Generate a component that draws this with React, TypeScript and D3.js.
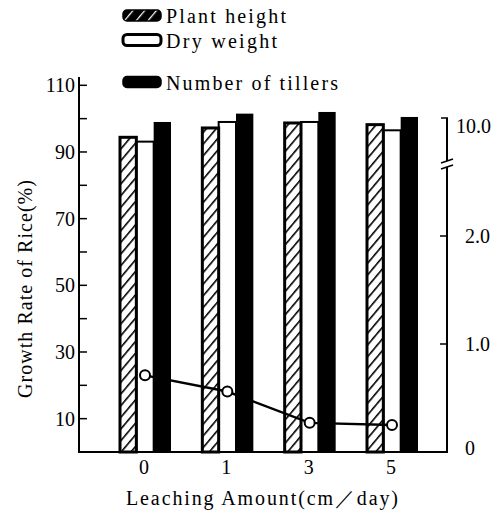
import React from "react";
import * as d3 from "d3";

const categories = ["0", "1", "3", "5"];
const seriesNames = ["Plant height", "Dry weight", "Number of tillers"];
const plantHeight = [94.7, 97.5, 99.0, 98.5];
const dryWeight = [93.1, 99.0, 99.0, 96.5];
const tillers = [99.0, 101.5, 102.0, 100.5];
const lineValues = [0.71, 0.56, 0.27, 0.25];
const leftTicks = [10, 20, 30, 40, 50, 60, 70, 80, 90, 100, 110];
const leftLabels = [10, 30, 50, 70, 90, 110];
const rightTicks = [1.0, 2.0];
const rightLabels = ["0", "1.0", "2.0"];
const breakLabel = "10.0";
const xTitle = "Leaching Amount(cm／day)";
const yTitle = "Growth Rate of Rice(%)";

const FONT = "Liberation Serif, DejaVu Serif, Times New Roman, serif";
const ts: React.CSSProperties = { fontFamily: FONT };

export default function App() {
  const W = 504, H = 513;
  const left = 79, right = 447, bottom = 452;
  const y = d3.scaleLinear().domain([0, 110]).range([bottom, 85.3]);
  const yR = d3.scaleLinear().domain([0, 2]).range([bottom, 236]);
  const x = d3.scalePoint<string>().domain(categories).range([145, 392]);
  const sx = d3.scaleBand<string>().domain(seriesNames).range([-26, 26]);
  const bw = sx.bandwidth();

  const lineGen = d3
    .line<number>()
    .x((_, i) => x(categories[i]) as number)
    .y((d) => yR(d))
    .curve(d3.curveLinear);

  const legendRows = [
    { name: seriesNames[0], iconY: 15.5, textY: 23, len: 120 },
    { name: seriesNames[1], iconY: 40, textY: 48, len: 111 },
    { name: seriesNames[2], iconY: 82, textY: 90, len: 172 },
  ];

  return (
    <svg
      width={W}
      height={H}
      style={{ position: "absolute", left: 0, top: 0, background: "#fff" }}
    >
      <defs>
        <pattern
          id="hatch"
          patternUnits="userSpaceOnUse"
          width={7.5}
          height={7.5}
          patternTransform="rotate(40)"
        >
          <rect width={7.5} height={7.5} fill="#fff" />
          <line x1={0} y1={0} x2={0} y2={7.5} stroke="#000" strokeWidth={3.2} />
        </pattern>
        <pattern
          id="hatchInv"
          patternUnits="userSpaceOnUse"
          width={9}
          height={9}
          patternTransform="rotate(40)"
        >
          <rect width={9} height={9} fill="#000" />
          <line x1={0} y1={0} x2={0} y2={9} stroke="#fff" strokeWidth={2.5} />
        </pattern>
      </defs>

      {/* legend */}
      {legendRows.map((r, i) => (
        <g key={r.name}>
          <rect
            x={123}
            y={r.iconY - 5.5}
            width={38}
            height={11}
            rx={4}
            fill={i === 0 ? "url(#hatchInv)" : i === 1 ? "#fff" : "#000"}
            stroke="#000"
            strokeWidth={i === 1 ? 3 : 1.5}
          />
          <text
            x={166}
            y={r.textY}
            fontSize={20}
            textLength={r.len}
            lengthAdjust="spacing"
            style={ts}
          >
            {r.name}
          </text>
        </g>
      ))}

      {/* bars */}
      {categories.map((c, i) => {
        const cx = x(c) as number;
        const x0 = cx + (sx(seriesNames[0]) as number);
        const x1 = cx + (sx(seriesNames[1]) as number);
        const x2 = cx + (sx(seriesNames[2]) as number);
        return (
          <g key={c}>
            <rect
              x={x1}
              y={y(dryWeight[i])}
              width={bw}
              height={bottom - y(dryWeight[i])}
              fill="#fff"
              stroke="#000"
              strokeWidth={2}
            />
            <rect
              x={x0 + 1}
              y={y(plantHeight[i]) + 1}
              width={bw - 1}
              height={bottom - y(plantHeight[i]) - 1}
              fill="url(#hatch)"
              stroke="#000"
              strokeWidth={3}
            />
            <rect
              x={x2}
              y={y(tillers[i])}
              width={bw}
              height={bottom - y(tillers[i])}
              fill="#000"
            />
          </g>
        );
      })}

      {/* line */}
      <path d={lineGen(lineValues) || ""} fill="none" stroke="#000" strokeWidth={2.4} />
      {lineValues.map((v, i) => (
        <circle
          key={i}
          cx={x(categories[i]) as number}
          cy={yR(v)}
          r={5}
          fill="#fff"
          stroke="#000"
          strokeWidth={2}
        />
      ))}

      {/* left axis */}
      <line x1={left} x2={left} y1={77} y2={bottom} stroke="#000" strokeWidth={2} />
      {leftTicks.map((t) => (
        <line key={t} x1={left} x2={left + 8} y1={y(t)} y2={y(t)} stroke="#000" strokeWidth={1.5} />
      ))}
      {leftLabels.map((t) => (
        <text key={t} x={75} y={y(t) + 7} fontSize={20} textAnchor="end" style={ts}>
          {t}
        </text>
      ))}

      {/* bottom axis */}
      <line x1={left - 1} x2={right + 1} y1={bottom} y2={bottom} stroke="#000" strokeWidth={2} />
      {categories.map((c) => (
        <text key={c} x={(x(c) as number) - 1} y={474} fontSize={20} textAnchor="middle" style={ts}>
          {c}
        </text>
      ))}

      {/* right axis */}
      <line x1={right} x2={right} y1={bottom} y2={167} stroke="#000" strokeWidth={2} />
      <line x1={right} x2={right} y1={161} y2={118} stroke="#000" strokeWidth={2} />
      <line x1={right + 1} x2={right - 6} y1={118} y2={118} stroke="#000" strokeWidth={1.5} />
      <line x1={right - 6} x2={right + 6} y1={163} y2={159} stroke="#000" strokeWidth={1.5} />
      <line x1={right - 6} x2={right + 6} y1={169} y2={165} stroke="#000" strokeWidth={1.5} />
      {rightTicks.map((t) => (
        <line key={t} x1={right} x2={right - 7} y1={yR(t)} y2={yR(t)} stroke="#000" strokeWidth={1.5} />
      ))}
      {rightLabels.map((l) => (
        <text key={l} x={465} y={yR(+l) + 7 - (l === "0" ? 4 : 0)} fontSize={20} style={ts}>
          {l}
        </text>
      ))}
      <text x={456} y={133} fontSize={20} style={ts}>
        {breakLabel}
      </text>

      {/* titles */}
      <text
        x={126}
        y={505}
        fontSize={20}
        textLength={272}
        lengthAdjust="spacing"
        style={ts}
      >
        {xTitle}
      </text>
      <text
        transform="translate(32,398) rotate(-90)"
        fontSize={20}
        textLength={218}
        lengthAdjust="spacing"
        style={ts}
      >
        {yTitle}
      </text>
    </svg>
  );
}
